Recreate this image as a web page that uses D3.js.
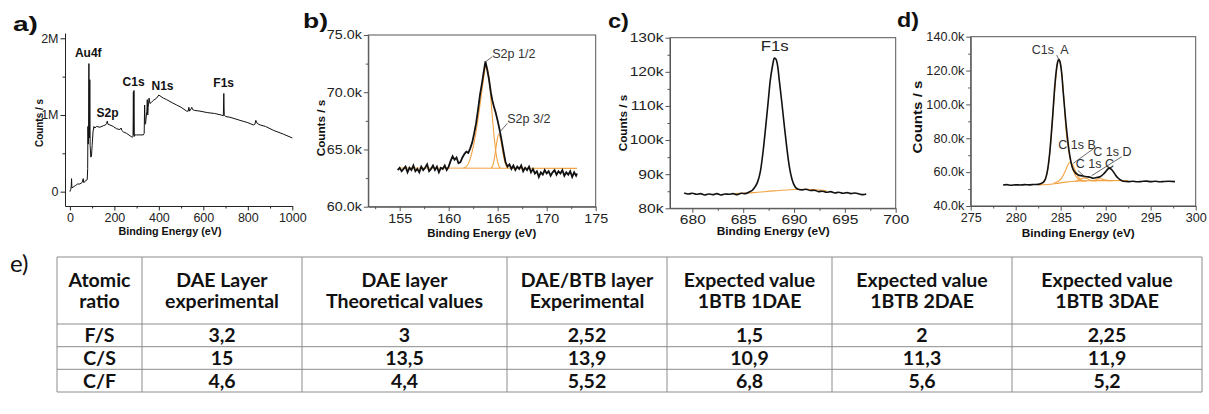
<!DOCTYPE html>
<html><head><meta charset="utf-8">
<script src="https://cdn.jsdelivr.net/npm/d3@7"></script>
<style>
body{margin:0;background:#fff}
svg{display:block}
text{font-family:"Liberation Sans",Arial,sans-serif}
</style></head><body>
<svg id="c" width="1209" height="414"></svg>
<script>
// ---------- DATA ----------
// a) survey spectrum: [binding energy eV, counts in millions]
const surveyPoints = [[0,0.00],[4,0.03],[6,0.07],[7.5,0.17],[9,0.05],[15,0.06],[25,0.08],[35,0.10],[45,0.10],[55,0.12],[60,0.17],[62,0.12],[68,0.13],[72,0.15],[76,0.15],[78,0.16],[80,0.30],[81,0.85],[82.5,0.62],[84,0.70],[85.5,1.67],[86.5,0.75],[88,0.70],[89.5,1.46],[91,0.60],[94,0.45],[97,0.46],[100,0.60],[104,0.78],[108,0.85],[112,0.83],[120,0.85],[135,0.84],[150,0.86],[160,0.87],[165,0.89],[168,0.92],[171,0.88],[180,0.87],[195,0.85],[210,0.82],[225,0.81],[230,0.83],[233,0.80],[240,0.78],[255,0.76],[270,0.73],[280,0.71],[284,0.72],[285.5,1.30],[286.5,0.74],[288,1.32],[289.5,0.72],[292,0.74],[300,0.74],[315,0.74],[330,0.74],[334,0.76],[336,1.13],[338,0.90],[340,0.88],[344,1.0],[346,1.05],[348,1.20],[350,1.00],[352,1.10],[356,1.22],[360,1.15],[365,1.16],[375,1.19],[390,1.22],[400,1.26],[405,1.25],[420,1.22],[435,1.20],[460,1.16],[480,1.13],[500,1.10],[525,1.05],[532,1.05],[535,1.10],[538,1.05],[545,1.08],[548,1.10],[552,1.07],[560,1.06],[585,1.05],[620,1.03],[650,1.02],[680,1.00],[690,0.99],[692,1.28],[694,1.00],[700,0.98],[720,0.97],[765,0.93],[800,0.90],[825,0.87],[832,0.88],[836,0.93],[842,0.89],[855,0.87],[880,0.85],[915,0.80],[960,0.75],[1000,0.70]];
const surveyPeaks = [{t:"Au4f",e:22.5,c:1.76},{t:"S2p",e:120,c:0.98},{t:"C1s",e:237,c:1.38},{t:"N1s",e:367,c:1.32},{t:"F1s",e:645,c:1.36}];

// b) S2p region, counts in k
const s2pMeasured = [[154.8,63.2],[155.0,63.4],[155.2,63.1],[155.4,63.3],[155.6,63.5],[155.8,63.0],[156.0,63.4],[156.2,63.2],[156.4,63.6],[156.6,63.1],[156.8,63.3],[157.0,63.0],[157.2,63.5],[157.4,63.2],[157.6,63.4],[157.8,63.7],[158.0,63.1],[158.2,63.3],[158.4,63.6],[158.6,63.2],[158.8,63.5],[159.0,63.0],[159.2,63.4],[159.4,63.3],[159.6,63.6],[159.8,63.2],[160.0,63.5],[160.2,64.0],[160.4,64.4],[160.6,64.1],[160.8,64.3],[161.0,63.8],[161.2,63.9],[161.4,64.3],[161.6,64.6],[161.8,64.8],[162.0,64.7],[162.2,65.1],[162.4,65.6],[162.6,66.4],[162.8,67.3],[163.0,68.5],[163.2,69.8],[163.4,70.8],[163.6,71.9],[163.75,72.7],[163.9,72.1],[164.1,71.2],[164.3,70.0],[164.45,69.3],[164.6,68.8],[164.8,68.2],[165.0,67.5],[165.2,66.7],[165.4,65.8],[165.6,64.8],[165.8,63.9],[166.0,63.5],[166.2,63.7],[166.4,63.3],[166.6,63.6],[166.8,63.2],[167.0,63.5],[167.2,63.3],[167.4,63.6],[167.6,63.1],[167.8,63.4],[168.0,63.2],[168.2,63.5],[168.4,63.0],[168.6,63.3],[168.8,62.9],[169.0,63.1],[169.2,62.6],[169.4,63.0],[169.6,62.8],[169.8,63.2],[170.0,62.9],[170.2,63.1],[170.4,62.7],[170.6,63.0],[170.8,63.2],[171.0,62.8],[171.2,63.1],[171.4,62.9],[171.6,63.2],[171.8,62.7],[172.0,63.0],[172.2,62.8],[172.4,63.1],[172.6,62.6],[172.8,63.0],[173.0,62.7],[173.1,62.9]];
const s2pBackground = [[155.0,63.38],[173.1,63.35]];
const s2pHalf = [[161.5,63.35],[161.9,63.6],[162.2,64.2],[162.5,65.2],[162.8,66.6],[163.1,68.3],[163.4,70.2],[163.6,71.4],[163.8,72.3],[164.0,71.9],[164.2,70.5],[164.45,67.9],[164.7,65.6],[164.9,64.3],[165.1,63.6],[165.3,63.35]];
const s2pThreeHalf = [[164.3,63.35],[164.5,63.6],[164.7,64.4],[164.9,65.6],[165.1,66.3],[165.3,65.9],[165.5,64.9],[165.7,64.0],[165.9,63.5],[166.1,63.35]];
const s2pLabels = [{t:"S2p 1/2",e:164.45,c:73.0,from:[163.76,72.66],to:[164.45,73.1]},{t:"S2p 3/2",e:165.98,c:67.31,from:[165.12,66.41],to:[165.98,67.28]}];

// c) F1s region, counts in k
const f1sMeasured = [[679.2,84.5],[679.6,84.2],[680.0,84.4],[680.4,84.1],[680.8,84.3],[681.2,83.9],[681.6,84.2],[682.0,84.0],[682.4,84.3],[682.8,83.9],[683.2,84.2],[683.6,84.1],[684.0,84.3],[684.4,84.0],[684.8,84.4],[685.2,84.3],[685.6,84.8],[685.9,85.3],[686.1,86.0],[686.4,87.6],[686.7,91.0],[686.95,96.5],[687.2,103.5],[687.45,111.0],[687.65,117.2],[687.9,122.0],[688.05,124.0],[688.2,123.8],[688.4,121.5],[688.55,117.5],[688.8,111.0],[689.05,104.0],[689.3,97.5],[689.55,92.0],[689.8,88.5],[690.1,86.3],[690.4,85.6],[690.8,85.4],[691.2,85.6],[691.6,85.2],[692.0,85.3],[692.4,84.9],[692.8,85.0],[693.2,84.7],[693.6,84.9],[694.0,84.5],[694.4,84.7],[694.8,84.4],[695.2,84.6],[695.6,84.3],[696.0,84.5],[696.4,84.2],[696.8,84.0],[697.1,84.2]];
const f1sBackground = [[684.2,84.3],[686,84.6],[688,85.1],[690,85.5],[691,85.6],[692,85.5],[693.2,85.1]];
const f1sLabel = {t:"F1s",e:688.1,c:126.0};

// d) C1s region, counts in k
const c1sMeasured = [[278.6,52.4],[279.0,52.6],[279.5,52.3],[280.0,52.5],[280.5,52.4],[281.0,52.6],[281.5,52.5],[282.0,52.7],[282.5,52.8],[283.0,53.8],[283.3,56.0],[283.55,61.5],[283.8,72.5],[284.1,92.5],[284.37,112.5],[284.63,124.3],[284.78,126.7],[284.92,125.2],[285.11,118.4],[285.29,106.6],[285.55,90.8],[285.78,79.0],[286.03,69.1],[286.4,61.3],[286.96,58.3],[287.4,57.8],[287.89,57.3],[288.3,57.0],[288.62,56.4],[289.0,56.8],[289.37,57.3],[289.7,58.6],[290.0,60.3],[290.2,61.6],[290.4,62.4],[290.6,61.8],[290.84,60.3],[291.1,58.2],[291.4,56.4],[291.7,55.2],[291.96,54.6],[292.5,54.4],[293.0,54.6],[293.5,54.3],[294.0,54.5],[294.5,54.7],[295.0,54.4],[295.5,54.6],[296.0,54.3],[296.5,54.5],[297.0,54.6],[297.7,54.4]];
const c1sBackground = [[282.5,52.5],[283.5,52.7],[284.5,53.3],[285.5,54.1],[286.5,54.6],[288,54.9],[290,55.0],[292.5,55.1]];
const c1sA = [[282.5,52.5],[283.0,53.5],[283.4,57.5],[283.8,71.5],[284.1,92],[284.4,112],[284.63,124],[284.78,126.4],[284.95,124.5],[285.15,117],[285.35,104],[285.6,84],[285.9,72],[286.2,64.5],[286.5,59.5],[286.8,56.8],[287.2,55.0],[287.6,54.6]];
const c1sB = [[284.2,53.4],[284.7,54.5],[285.1,56.5],[285.5,60.5],[285.8,64.3],[286.0,65.8],[286.2,65.4],[286.5,62.5],[286.8,58.8],[287.1,56.2],[287.5,54.9],[287.9,54.6]];
const c1sC = [[286.6,54.6],[287.0,55.2],[287.3,56.1],[287.6,56.6],[287.9,56.3],[288.2,55.5],[288.6,54.9],[289.0,54.8]];
const c1sD = [[288.4,54.8],[288.8,55.3],[289.1,55.9],[289.4,56.1],[289.7,55.8],[290.0,55.3],[290.4,55.0],[290.8,55.0]];
const c1sLabels = [{t:"C1s  A",e:281.78,c:129.8,from:[284.78,126.4],to:[284.56,129.2]},{t:"C 1s B",e:284.73,c:73.7,from:[286.4,65.2],to:[288.7,74.1]},{t:"C 1s D",e:288.62,c:69.5,from:[288.44,57.9],to:[291.78,69.1]},{t:"C 1s C",e:286.67,c:62.4,from:[287.7,57.2],to:[286.9,61.0]}];

// e) table
const tableHeader = [["Atomic","ratio"],["DAE Layer","experimental"],["DAE layer","Theoretical values"],["DAE/BTB layer","Experimental"],["Expected value","1BTB 1DAE"],["Expected value","1BTB 2DAE"],["Expected value","1BTB 3DAE"]];
const ratioNames = ["F/S","C/S","C/F"];
const daeExperimental = ["3,2","15","4,6"];
const daeTheoretical = ["3","13,5","4,4"];
const daeBtbExperimental = ["2,52","13,9","5,52"];
const expected1Btb1Dae = ["1,5","10,9","6,8"];
const expected1Btb2Dae = ["2","11,3","5,6"];
const expected1Btb3Dae = ["2,25","11,9","5,2"];

// ---------- DRAWING ----------
const svg = d3.select('#c');
svg.append('rect').attr('width',1209).attr('height',414).attr('fill','#fff');
const ORANGE = '#f2a343';

function stretch(sel, target){
  sel.each(function(){
    const w = this.getComputedTextLength();
    const t = typeof target === 'function' ? target(w) : target;
    this.setAttribute('textLength', t);
    this.setAttribute('lengthAdjust','spacingAndGlyphs');
  });
}

function panel(o){
  const x = d3.scaleLinear().domain(o.xDom).range(o.xRange);
  const y = d3.scaleLinear().domain(o.yDom).range(o.yRange);
  const g = svg.append('g');
  const axCol = o.axisColor;
  const y0 = o.yRange[0], x0 = o.xRange[0];
  g.append('g').attr('transform',`translate(0,${y0})`)
    .call(d3.axisBottom(x).tickValues(o.xMinor).tickSize(2.5).tickFormat(''))
    .call(s=>{s.select('.domain').remove(); s.selectAll('line').attr('stroke',axCol);});
  g.append('g').attr('transform',`translate(${x0},0)`)
    .call(d3.axisLeft(y).tickValues(o.yMinor).tickSize(2.5).tickFormat(''))
    .call(s=>{s.select('.domain').remove(); s.selectAll('line').attr('stroke',axCol);});
  const xa = g.append('g').attr('transform',`translate(0,${y0})`)
    .call(d3.axisBottom(x).tickValues(o.xTicks).tickSizeInner(4.5).tickSizeOuter(0).tickPadding(3).tickFormat(o.xFmt || (d=>d)));
  const ya = g.append('g').attr('transform',`translate(${x0},0)`)
    .call(d3.axisLeft(y).tickValues(o.yTicks).tickSizeInner(4.5).tickSizeOuter(0).tickPadding(2).tickFormat(o.yFmt));
  [xa,ya].forEach(a=>{
    a.select('.domain').attr('stroke',axCol);
    a.selectAll('line').attr('stroke',axCol);
    a.selectAll('text').attr('fill','#222').style('font-size',o.tickSize+'px').style('font-family','"Liberation Sans",Arial,sans-serif');
    if(o.tickStretch) stretch(a.selectAll('text'), w=>w*o.tickStretch);
  });
  if(o.box){
    g.append('rect').attr('x',o.xRange[0]).attr('y',o.yRange[1])
      .attr('width',o.xRange[1]-o.xRange[0]).attr('height',o.yRange[0]-o.yRange[1])
      .attr('fill','none').attr('stroke',axCol).attr('stroke-width',1);
  }
  g.append('text').attr('x',o.xTitle[0]).attr('y',o.xTitle[1]).attr('text-anchor','middle')
    .attr('font-weight','bold').attr('font-size',o.xTitle[2]).attr('fill','#111').text('Binding Energy (eV)')
    .call(s=>stretch(s,o.xTitle[3]));
  g.append('text').attr('transform',`translate(${o.yTitle[0]},${o.yTitle[1]}) rotate(-90)`).attr('text-anchor','middle')
    .attr('font-weight','bold').attr('font-size',o.yTitle[2]).attr('fill','#111').text('Counts / s')
    .call(s=>stretch(s,o.yTitle[3]));
  g.append('text').attr('x',o.letter[1]).attr('y',o.letter[2]).attr('font-weight','bold').attr('font-size',21)
    .attr('fill','#111').text(o.letter[0]).call(s=>stretch(s,o.letter[3]));
  return {g,x,y};
}

const lineGen = (x,y,curve)=>d3.line().x(d=>x(d[0])).y(d=>y(d[1])).curve(curve||d3.curveLinear);

// a)
{
  const {g,x,y} = panel({xDom:[-22,1000],xRange:[65,292.3],yDom:[-0.187,2.069],yRange:[206,33],
    xTicks:[0,200,400,600,800,1000],xMinor:[100,300,500,700,900],yTicks:[0,1,2],yMinor:[0.5,1.5],
    yFmt:d=>d===0?'0':d+'M',tickSize:12.5,axisColor:'#222',box:false,
    xTitle:[170,235,11,103],yTitle:[43,123,10.5,48],letter:['a)',13,31,25]});
  g.append('path').datum(surveyPoints).attr('d',lineGen(x,y)).attr('fill','none').attr('stroke','#111').attr('stroke-width',1);
  g.selectAll('.pk').data(surveyPeaks).enter().append('text').attr('x',d=>x(d.e)).attr('y',d=>y(d.c))
    .attr('font-weight','bold').attr('font-size',12).attr('fill','#111').text(d=>d.t);
}
// b)
{
  const {g,x,y} = panel({xDom:[151.8,175],xRange:[368.3,595.7],yDom:[60,75],yRange:[206.7,35],
    xTicks:[155,160,165,170,175],xMinor:[152.5,157.5,162.5,167.5,172.5],yTicks:[60,65,70,75],yMinor:[62.5,67.5,72.5],
    yFmt:d=>d.toFixed(1)+'k',tickSize:12,tickStretch:1.19,axisColor:'#555',box:true,
    xTitle:[481.7,237,11,109],yTitle:[325,128,11,56.7],letter:['b)',303,28,25]});
  g.append('path').datum(s2pBackground).attr('d',lineGen(x,y)).attr('fill','none').attr('stroke',ORANGE).attr('stroke-width',1.1);
  [s2pHalf,s2pThreeHalf].forEach(c=>g.append('path').datum(c).attr('d',lineGen(x,y,d3.curveMonotoneX)).attr('fill','none').attr('stroke',ORANGE).attr('stroke-width',1.1));
  g.append('path').datum(s2pMeasured).attr('d',lineGen(x,y)).attr('fill','none').attr('stroke','#111').attr('stroke-width',1.8);
  s2pLabels.forEach(l=>{
    g.append('line').attr('x1',x(l.from[0])).attr('y1',y(l.from[1])).attr('x2',x(l.to[0])).attr('y2',y(l.to[1])).attr('stroke','#444').attr('stroke-width',0.8);
    g.append('text').attr('x',x(l.e)).attr('y',y(l.c)).attr('font-size',12.5).attr('fill','#333').text(l.t);
  });
}
// c)
{
  const {g,x,y} = panel({xDom:[677.8,700],xRange:[670,895.7],yDom:[80,130],yRange:[208.3,37.7],
    xTicks:[680,685,690,695,700],xMinor:[682.5,687.5,692.5,697.5],yTicks:[80,90,100,110,120,130],yMinor:[85,95,105,115,125],
    yFmt:d=>d+'k',tickSize:12,tickStretch:1.3,axisColor:'#555',box:true,
    xTitle:[773.3,235,11,113],yTitle:[627,123,11,56.7],letter:['c)',608,28,21]});
  g.append('path').datum(f1sBackground).attr('d',lineGen(x,y,d3.curveMonotoneX)).attr('fill','none').attr('stroke',ORANGE).attr('stroke-width',1.1);
  g.append('path').datum(f1sMeasured).attr('d',lineGen(x,y,d3.curveMonotoneX)).attr('fill','none').attr('stroke','#111').attr('stroke-width',1.6);
  g.append('text').attr('x',x(f1sLabel.e)).attr('y',y(f1sLabel.c)).attr('text-anchor','middle').attr('font-size',14).attr('fill','#222').text(f1sLabel.t).call(s=>stretch(s,28));
}
// d)
{
  const {g,x,y} = panel({xDom:[275,300],xRange:[970.7,1195.7],yDom:[40,140],yRange:[206,36.7],
    xTicks:[275,280,285,290,295,300],xMinor:[277.5,282.5,287.5,292.5,297.5],yTicks:[40,60,80,100,120,140],yMinor:[50,70,90,110,130],
    yFmt:d=>d.toFixed(1)+'k',tickSize:12,tickStretch:1.05,axisColor:'#555',box:true,
    xTitle:[1078.3,237,11.5,113],yTitle:[922,117,13,73],letter:['d)',897,27,22]});
  g.append('path').datum(c1sBackground).attr('d',lineGen(x,y,d3.curveMonotoneX)).attr('fill','none').attr('stroke',ORANGE).attr('stroke-width',1.1);
  [c1sA,c1sB,c1sC,c1sD].forEach(c=>g.append('path').datum(c).attr('d',lineGen(x,y,d3.curveMonotoneX)).attr('fill','none').attr('stroke',ORANGE).attr('stroke-width',1.1));
  g.append('path').datum(c1sMeasured).attr('d',lineGen(x,y,d3.curveMonotoneX)).attr('fill','none').attr('stroke','#111').attr('stroke-width',1.6);
  c1sLabels.forEach(l=>{
    g.append('line').attr('x1',x(l.from[0])).attr('y1',y(l.from[1])).attr('x2',x(l.to[0])).attr('y2',y(l.to[1])).attr('stroke','#444').attr('stroke-width',0.8);
    g.append('text').attr('x',x(l.e)).attr('y',y(l.c)).attr('font-size',12.5).attr('fill','#333').style('white-space','pre').text(l.t);
  });
}
// e) table
{
  const cols = [57,142,302,507,667,832,1012,1202];
  const rowsY = [257,324,346.7,369.3,392];
  const g = svg.append('g');
  g.append('text').attr('x',10).attr('y',272).attr('font-size',24).attr('fill','#111').style('font-family','Lato, "Open Sans", sans-serif').text('e)');
  const columns = [ratioNames,daeExperimental,daeTheoretical,daeBtbExperimental,expected1Btb1Dae,expected1Btb2Dae,expected1Btb3Dae];
  const font = 'Lato, "Open Sans", sans-serif';
  rowsY.forEach(yy=>g.append('line').attr('x1',cols[0]).attr('x2',cols[cols.length-1]).attr('y1',yy).attr('y2',yy).attr('stroke','#8c8c8c').attr('stroke-width',1));
  cols.forEach(xx=>g.append('line').attr('x1',xx).attr('x2',xx).attr('y1',rowsY[0]).attr('y2',rowsY[rowsY.length-1]).attr('stroke','#8c8c8c').attr('stroke-width',1));
  tableHeader.forEach((h,i)=>{
    const cx = (cols[i]+cols[i+1])/2;
    h.forEach((line,j)=>g.append('text').attr('x',cx).attr('y',287+j*21).attr('text-anchor','middle')
      .attr('font-size',19.5).attr('font-weight','bold').attr('fill','#111').style('font-family',font).text(line));
  });
  columns.forEach((col,i)=>{
    const cx = (cols[i]+cols[i+1])/2;
    col.forEach((v,r)=>{
      const cy = (rowsY[r+1]+rowsY[r+2])/2;
      g.append('text').attr('x',cx).attr('y',cy+7).attr('text-anchor','middle')
        .attr('font-size',19.5).attr('font-weight','bold').attr('fill','#111').style('font-family',font).text(v);
    });
  });
}
</script>
</body></html>
